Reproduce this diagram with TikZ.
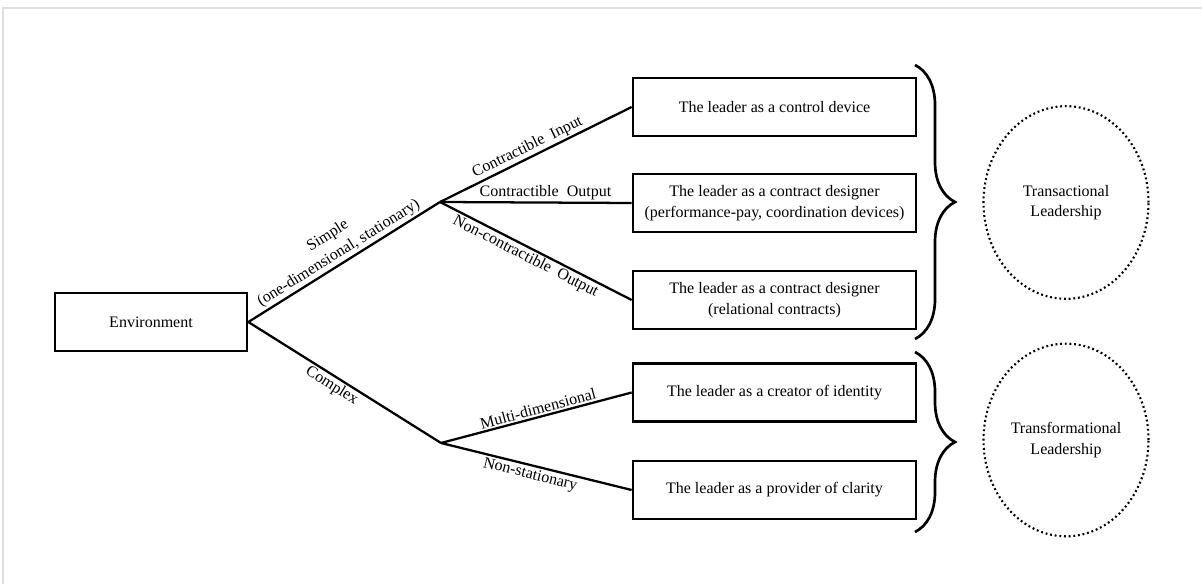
\documentclass[tikz,border=0pt]{standalone}
\usepackage{fontspec}
\setmainfont{Liberation Serif}
\newfontfamily\tnrfont{Liberation Serif}
\usetikzlibrary{shapes.geometric,decorations.pathreplacing}
\begin{document}
\begin{tikzpicture}[x=0.75pt,y=-0.75pt,
  every node/.style={font=\tnrfont\fontsize{12}{15.5}\selectfont},
  leaderbox/.style={draw,line width=2pt,minimum width=212.25pt,minimum height=43.5pt,align=center,inner sep=2pt},
  conn/.style={line width=1.7pt},
  lbl/.style={sloped,inner sep=1.2pt,align=center},
  oval/.style={ellipse,draw,line width=1.6pt,dash pattern=on 1.4pt off 2.1pt,minimum width=123.75pt,minimum height=144.5pt,align=center,inner sep=0pt},
  bracestyle/.style={line width=2pt,decorate,decoration={brace,amplitude=30pt}}]
\useasboundingbox (0,0) rectangle (1202,584);
\draw[gray!25,line width=0.8pt] (3,584) -- (3,8) -- (1202,8);

\node[leaderbox,minimum width=144pt] (env) at (151,322) {Environment};
\node[leaderbox] (b1) at (774.5,107) {The leader as a control device};
\node[leaderbox] (b2) at (774.5,203) {The leader as a contract designer\\(performance-pay, coordination devices)};
\node[leaderbox] (b3) at (774.5,300) {The leader as a contract designer\\(relational contracts)};
\node[leaderbox] (b4) at (774.5,392.5) {The leader as a creator of identity};
\node[leaderbox] (b5) at (774.5,490) {The leader as a provider of clarity};

\coordinate (U) at (440,202);
\coordinate (L) at (441,443);

\draw[conn] (env.east) -- node[lbl,above,pos=0.5] {Simple\\(one-dimensional, stationary)} (U);
\draw[conn] (env.east) -- node[lbl,below,pos=0.46] {Complex} (L);
\draw[conn] (U) -- node[lbl,above,pos=0.48] {Contractible\ \ Input} (b1.west);
\draw[conn] (U) -- node[lbl,above,pos=0.55] {Contractible\ \ Output} (b2.west);
\draw[conn] (U) -- node[lbl,below,pos=0.47] {Non-contractible\ \ Output} (b3.west);
\draw[conn] (L) -- node[lbl,above,pos=0.52] {Multi-dimensional} (b4.west);
\draw[conn] (L) -- node[lbl,below,pos=0.48] {Non-stationary} (b5.west);

\coordinate (br1a) at (915,65);
\coordinate (br1b) at (915,339);
\coordinate (br2a) at (915,352);
\coordinate (br2b) at (915,532);
\draw[bracestyle] (br1a) -- (br1b);
\draw[bracestyle] (br2a) -- (br2b);

\node[oval] (tl) at (1066,202.5) {Transactional\\Leadership};
\node[oval] (tf) at (1066,440) {Transformational\\Leadership};
\end{tikzpicture}
\end{document}
